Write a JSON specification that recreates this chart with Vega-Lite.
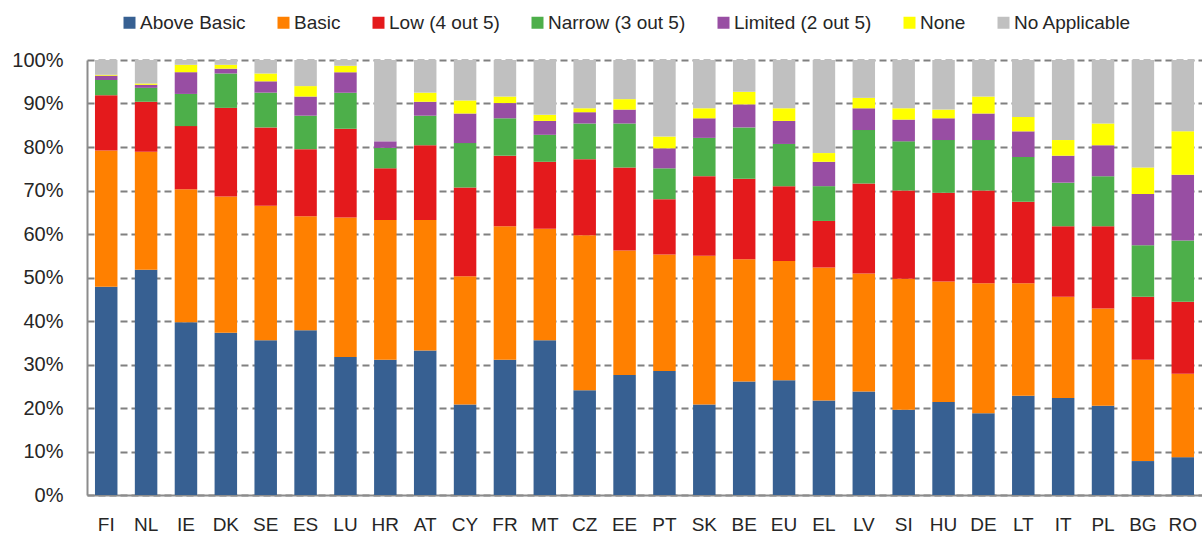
{
  "$schema": "https://vega.github.io/schema/vega-lite/v6.json",
  "width": 1115,
  "height": 435,
  "padding": {"left": 87, "top": 60, "right": 0, "bottom": 41},
  "autosize": {"type": "none"},
  "background": "white",
  "config": {
    "view": {"stroke": null},
    "font": "Liberation Sans",
    "axis": {"labelFont": "Liberation Sans", "labelColor": "#262626"},
    "legend": {"labelFont": "Liberation Sans"}
  },
  "datasets": {
    "ord": [
      {"k": "Above Basic", "o": 1},
      {"k": "Basic", "o": 2},
      {"k": "Low (4 out 5)", "o": 3},
      {"k": "Narrow (3 out 5)", "o": 4},
      {"k": "Limited (2 out 5)", "o": 5},
      {"k": "None", "o": 6},
      {"k": "No Applicable", "o": 7}
    ]
  },
  "data": {
    "values": [
      {"c": "FI", "Above Basic": 47.9, "Basic": 31.3, "Low (4 out 5)": 12.7, "Narrow (3 out 5)": 3.5, "Limited (2 out 5)": 1.0, "None": 0.2, "No Applicable": 3.4},
      {"c": "NL", "Above Basic": 51.8, "Basic": 27.1, "Low (4 out 5)": 11.5, "Narrow (3 out 5)": 3.2, "Limited (2 out 5)": 0.7, "None": 0.3, "No Applicable": 5.4},
      {"c": "IE", "Above Basic": 39.7, "Basic": 30.6, "Low (4 out 5)": 14.5, "Narrow (3 out 5)": 7.4, "Limited (2 out 5)": 5.0, "None": 1.7, "No Applicable": 1.1},
      {"c": "DK", "Above Basic": 37.3, "Basic": 31.3, "Low (4 out 5)": 20.4, "Narrow (3 out 5)": 7.9, "Limited (2 out 5)": 1.1, "None": 0.9, "No Applicable": 1.1},
      {"c": "SE", "Above Basic": 35.6, "Basic": 30.9, "Low (4 out 5)": 18.0, "Narrow (3 out 5)": 8.0, "Limited (2 out 5)": 2.6, "None": 1.8, "No Applicable": 3.1},
      {"c": "ES", "Above Basic": 37.9, "Basic": 26.2, "Low (4 out 5)": 15.4, "Narrow (3 out 5)": 7.7, "Limited (2 out 5)": 4.4, "None": 2.4, "No Applicable": 6.0},
      {"c": "LU", "Above Basic": 31.7, "Basic": 32.1, "Low (4 out 5)": 20.4, "Narrow (3 out 5)": 8.3, "Limited (2 out 5)": 4.7, "None": 1.5, "No Applicable": 1.3},
      {"c": "HR", "Above Basic": 31.1, "Basic": 32.1, "Low (4 out 5)": 11.9, "Narrow (3 out 5)": 4.7, "Limited (2 out 5)": 1.5, "None": 0.0, "No Applicable": 18.7},
      {"c": "AT", "Above Basic": 33.2, "Basic": 30.0, "Low (4 out 5)": 17.2, "Narrow (3 out 5)": 6.8, "Limited (2 out 5)": 3.2, "None": 2.1, "No Applicable": 7.5},
      {"c": "CY", "Above Basic": 20.8, "Basic": 29.5, "Low (4 out 5)": 20.4, "Narrow (3 out 5)": 10.2, "Limited (2 out 5)": 6.8, "None": 3.0, "No Applicable": 9.3},
      {"c": "FR", "Above Basic": 31.1, "Basic": 30.7, "Low (4 out 5)": 16.2, "Narrow (3 out 5)": 8.6, "Limited (2 out 5)": 3.5, "None": 1.5, "No Applicable": 8.4},
      {"c": "MT", "Above Basic": 35.6, "Basic": 25.6, "Low (4 out 5)": 15.4, "Narrow (3 out 5)": 6.2, "Limited (2 out 5)": 3.2, "None": 1.4, "No Applicable": 12.6},
      {"c": "CZ", "Above Basic": 24.1, "Basic": 35.6, "Low (4 out 5)": 17.5, "Narrow (3 out 5)": 8.2, "Limited (2 out 5)": 2.6, "None": 0.9, "No Applicable": 11.1},
      {"c": "EE", "Above Basic": 27.6, "Basic": 28.6, "Low (4 out 5)": 19.1, "Narrow (3 out 5)": 10.1, "Limited (2 out 5)": 3.2, "None": 2.4, "No Applicable": 9.0},
      {"c": "PT", "Above Basic": 28.5, "Basic": 26.8, "Low (4 out 5)": 12.7, "Narrow (3 out 5)": 7.1, "Limited (2 out 5)": 4.6, "None": 2.7, "No Applicable": 17.6},
      {"c": "SK", "Above Basic": 20.8, "Basic": 34.2, "Low (4 out 5)": 18.3, "Narrow (3 out 5)": 8.8, "Limited (2 out 5)": 4.5, "None": 2.3, "No Applicable": 11.1},
      {"c": "BE", "Above Basic": 26.1, "Basic": 28.1, "Low (4 out 5)": 18.5, "Narrow (3 out 5)": 11.8, "Limited (2 out 5)": 5.3, "None": 2.9, "No Applicable": 7.3},
      {"c": "EU", "Above Basic": 26.4, "Basic": 27.4, "Low (4 out 5)": 17.2, "Narrow (3 out 5)": 9.7, "Limited (2 out 5)": 5.3, "None": 2.9, "No Applicable": 11.1},
      {"c": "EL", "Above Basic": 21.7, "Basic": 30.6, "Low (4 out 5)": 10.7, "Narrow (3 out 5)": 8.0, "Limited (2 out 5)": 5.6, "None": 2.0, "No Applicable": 21.4},
      {"c": "LV", "Above Basic": 23.8, "Basic": 27.1, "Low (4 out 5)": 20.7, "Narrow (3 out 5)": 12.3, "Limited (2 out 5)": 5.0, "None": 2.4, "No Applicable": 8.7},
      {"c": "SI", "Above Basic": 19.6, "Basic": 30.1, "Low (4 out 5)": 20.3, "Narrow (3 out 5)": 11.3, "Limited (2 out 5)": 5.0, "None": 2.6, "No Applicable": 11.1},
      {"c": "HU", "Above Basic": 21.4, "Basic": 27.7, "Low (4 out 5)": 20.4, "Narrow (3 out 5)": 12.1, "Limited (2 out 5)": 5.0, "None": 2.0, "No Applicable": 11.4},
      {"c": "DE", "Above Basic": 18.8, "Basic": 29.9, "Low (4 out 5)": 21.3, "Narrow (3 out 5)": 11.6, "Limited (2 out 5)": 6.1, "None": 3.9, "No Applicable": 8.4},
      {"c": "LT", "Above Basic": 22.8, "Basic": 25.9, "Low (4 out 5)": 18.7, "Narrow (3 out 5)": 10.3, "Limited (2 out 5)": 5.9, "None": 3.3, "No Applicable": 13.1},
      {"c": "IT", "Above Basic": 22.3, "Basic": 23.3, "Low (4 out 5)": 16.2, "Narrow (3 out 5)": 10.0, "Limited (2 out 5)": 6.2, "None": 3.6, "No Applicable": 18.4},
      {"c": "PL", "Above Basic": 20.5, "Basic": 22.4, "Low (4 out 5)": 18.9, "Narrow (3 out 5)": 11.5, "Limited (2 out 5)": 7.1, "None": 5.0, "No Applicable": 14.6},
      {"c": "BG", "Above Basic": 7.8, "Basic": 23.3, "Low (4 out 5)": 14.5, "Narrow (3 out 5)": 11.8, "Limited (2 out 5)": 11.8, "None": 6.1, "No Applicable": 24.7},
      {"c": "RO", "Above Basic": 8.7, "Basic": 19.2, "Low (4 out 5)": 16.5, "Narrow (3 out 5)": 14.1, "Limited (2 out 5)": 15.1, "None": 10.0, "No Applicable": 16.4}
    ]
  },
  "transform": [
    {"fold": ["Above Basic", "Basic", "Low (4 out 5)", "Narrow (3 out 5)", "Limited (2 out 5)", "None", "No Applicable"], "as": ["k", "v"]},
    {"lookup": "k", "from": {"data": {"name": "ord"}, "key": "k", "fields": ["o"]}}
  ],
  "mark": {"type": "bar"},
  "encoding": {
    "x": {
      "field": "c",
      "type": "nominal",
      "sort": null,
      "title": null,
      "scale": {"paddingInner": 0.436, "paddingOuter": 0.2},
      "axis": {
        "labelAngle": 0,
        "labelFontSize": 19,
        "labelPadding": 20,
        "ticks": false,
        "domainColor": "#8c8c8c",
        "domainWidth": 2,
        "grid": false
      }
    },
    "y": {
      "field": "v",
      "type": "quantitative",
      "stack": "zero",
      "title": null,
      "scale": {"domain": [0, 100], "nice": false},
      "axis": {
        "values": [0, 10, 20, 30, 40, 50, 60, 70, 80, 90, 100],
        "labelExpr": "datum.value + '%'",
        "labelFontSize": 20,
        "labelPadding": 24,
        "ticks": false,
        "domainColor": "#8c8c8c",
        "domainWidth": 2,
        "grid": true,
        "gridColor": "#808080",
        "gridWidth": 2,
        "gridDash": [7, 4]
      }
    },
    "color": {
      "field": "k",
      "type": "nominal",
      "scale": {
        "domain": ["Above Basic", "Basic", "Low (4 out 5)", "Narrow (3 out 5)", "Limited (2 out 5)", "None", "No Applicable"],
        "range": ["#376092", "#FF8000", "#E41A1C", "#4DAF4A", "#984EA3", "#FFFF00", "#C0C0C0"]
      },
      "legend": {
        "title": null,
        "orient": "none",
        "direction": "horizontal",
        "legendX": 33,
        "legendY": -47,
        "symbolType": "square",
        "symbolSize": 144,
        "symbolStrokeWidth": 0,
        "labelFontSize": 19,
        "labelColor": "#262626",
        "labelOffset": 1,
        "columnPadding": 28
      }
    },
    "order": {"field": "o", "type": "quantitative", "sort": "ascending"}
  }
}
